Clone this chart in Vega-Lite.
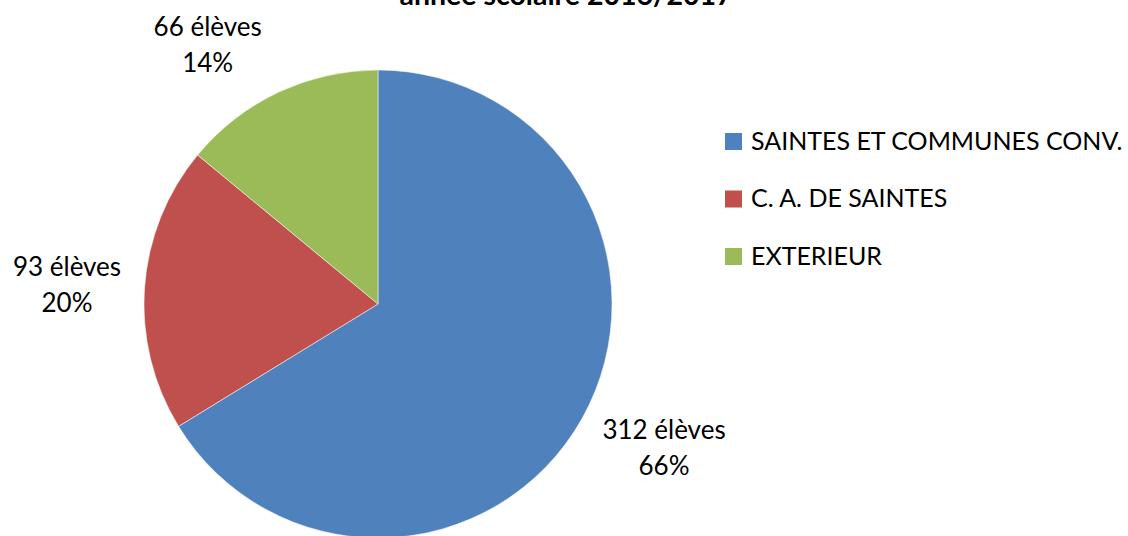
{
  "$schema": "https://vega.github.io/schema/vega-lite/v6.json",
  "width": 756,
  "height": 464,
  "autosize": {"type": "none"},
  "padding": {"left": 0, "top": 72, "right": 372, "bottom": 0},
  "background": "white",
  "title": {
    "text": "année scolaire 2016/2017",
    "font": "Lato",
    "fontSize": 28.5,
    "fontWeight": "bold",
    "color": "black",
    "anchor": "middle",
    "frame": "group",
    "baseline": "alphabetic",
    "offset": 0,
    "dy": 45,
    "dx": 188
  },
  "config": {"view": {"stroke": null}},
  "data": {
    "values": [
      {"categorie": "SAINTES ET COMMUNES CONV.", "eleves": 312, "rang": 1, "etiquette": "312 élèves\n66%"},
      {"categorie": "C. A. DE SAINTES", "eleves": 93, "rang": 2, "etiquette": "93 élèves\n20%"},
      {"categorie": "EXTERIEUR", "eleves": 66, "rang": 3, "etiquette": "66 élèves\n14%"}
    ]
  },
  "encoding": {
    "theta": {"field": "eleves", "type": "quantitative", "stack": true},
    "order": {"field": "rang", "type": "ordinal"}
  },
  "layer": [
    {
      "mark": {"type": "arc", "outerRadius": 234, "stroke": "white", "strokeWidth": 0.5},
      "encoding": {
        "color": {
          "field": "categorie",
          "type": "nominal",
          "scale": {
            "domain": ["SAINTES ET COMMUNES CONV.", "C. A. DE SAINTES", "EXTERIEUR"],
            "range": ["#4F81BD", "#C0504D", "#9BBB59"]
          },
          "legend": {
            "title": null,
            "orient": "none",
            "legendX": 721,
            "legendY": 57,
            "padding": 0,
            "symbolType": "square",
            "symbolSize": 289,
            "symbolStrokeWidth": 0,
            "labelFont": "Lato",
            "labelFontSize": 25,
            "labelColor": "black",
            "labelOffset": 5,
            "labelLimit": 500,
            "rowPadding": 31.5
          }
        }
      }
    },
    {
      "mark": {
        "type": "text", "radius": 320.7, "thetaOffset": -0.041, "dy": -18,
        "lineBreak": "\n", "font": "Lato", "fontSize": 26, "lineHeight": 36,
        "color": "black", "align": "center", "baseline": "middle"
      },
      "encoding": {
        "text": {"condition": {"test": "datum.rang === 1", "field": "etiquette", "type": "nominal"}, "value": ""}
      }
    },
    {
      "mark": {
        "type": "text", "radius": 311.5, "thetaOffset": -0.012, "dy": -18,
        "lineBreak": "\n", "font": "Lato", "fontSize": 26, "lineHeight": 36,
        "color": "black", "align": "center", "baseline": "middle"
      },
      "encoding": {
        "text": {"condition": {"test": "datum.rang === 2", "field": "etiquette", "type": "nominal"}, "value": ""}
      }
    },
    {
      "mark": {
        "type": "text", "radius": 309.3, "thetaOffset": -0.143, "dy": -18,
        "lineBreak": "\n", "font": "Lato", "fontSize": 26, "lineHeight": 36,
        "color": "black", "align": "center", "baseline": "middle"
      },
      "encoding": {
        "text": {"condition": {"test": "datum.rang === 3", "field": "etiquette", "type": "nominal"}, "value": ""}
      }
    }
  ]
}
